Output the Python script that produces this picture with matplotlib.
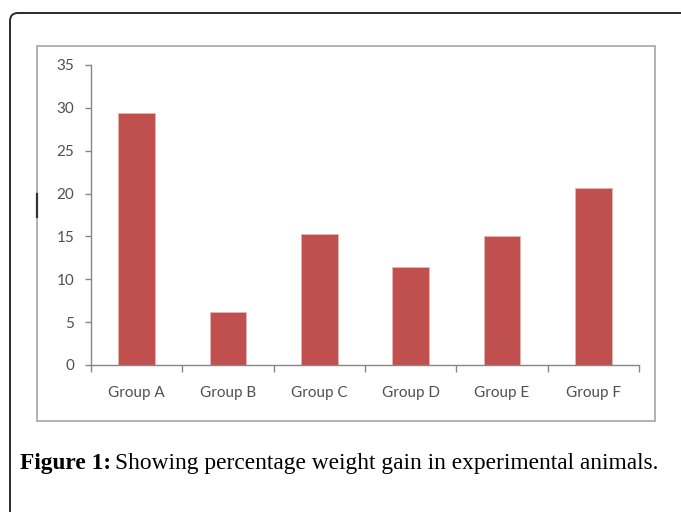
import matplotlib
matplotlib.use("Agg")
import matplotlib.pyplot as plt
from matplotlib.patches import FancyBboxPatch, Rectangle

# percentage weight gain per group
groups = ["Group A", "Group B", "Group C", "Group D", "Group E", "Group F"]
weight_gain = [29.4, 6.2, 15.3, 11.4, 15.0, 20.6]
y_ticks = [0, 5, 10, 15, 20, 25, 30, 35]

BAR_COLOR = "#C0504D"
AXIS_COLOR = "#868686"
LABEL_COLOR = "#505050"

W, H = 681, 512
fig = plt.figure(figsize=(W / 100, H / 100), dpi=100)

# background layer in pixel coordinates for frame, box and caption
bg = fig.add_axes([0, 0, 1, 1], zorder=0)
bg.set_xlim(0, W)
bg.set_ylim(H, 0)
bg.axis("off")

frame = FancyBboxPatch((10, 13), 720, 540, boxstyle="round,pad=0,rounding_size=8",
                       fill=False, edgecolor="#2b2b2b", linewidth=1.4, clip_on=False)
bg.add_patch(frame)
bg.add_patch(Rectangle((37, 46), 618, 375, fill=False, edgecolor="#a6a6a6", linewidth=1.2))
bg.plot([37, 37], [194, 217], color="#333333", linewidth=1.6)

cap_y = 463
cap_size = 16.8
bold = bg.text(20, cap_y, "Figure 1:", fontsize=cap_size, fontweight="bold",
               family="Liberation Serif", va="center", ha="left")
fig.canvas.draw()
bb = bold.get_window_extent()
x_end = bb.x1 * W / fig.bbox.width
bg.text(x_end + 4, cap_y, "Showing percentage weight gain in experimental animals.",
        fontsize=cap_size, family="Liberation Serif", va="center", ha="left")

# chart
ax = fig.add_axes([91 / W, 1 - 365 / H, (639 - 91) / W, 300 / H], zorder=1)
ax.patch.set_alpha(0)
x = range(len(groups))
ax.bar(x, weight_gain, width=0.4, color=BAR_COLOR, edgecolor="#e8b5b3", linewidth=0.6)

ax.set_xlim(-0.5, len(groups) - 0.5)
ax.set_ylim(0, 35)
ax.set_yticks(y_ticks)
ax.set_xticks(list(x))
ax.set_xticklabels(groups)
ax.set_xticks([i - 0.5 for i in range(len(groups) + 1)], minor=True)

for side in ("top", "right"):
    ax.spines[side].set_visible(False)
for side in ("left", "bottom"):
    ax.spines[side].set_color(AXIS_COLOR)
    ax.spines[side].set_linewidth(1.0)

ax.tick_params(axis="y", direction="out", length=4, width=1, color=AXIS_COLOR,
               labelcolor=LABEL_COLOR, labelsize=11, pad=8)
ax.tick_params(axis="x", which="major", length=0, labelcolor=LABEL_COLOR,
               labelsize=11, pad=15)
ax.tick_params(axis="x", which="minor", direction="out", length=5, width=1,
               color=AXIS_COLOR)
for lbl in ax.get_xticklabels() + ax.get_yticklabels():
    lbl.set_family("Lato")

fig.savefig("out.png", dpi=100)
